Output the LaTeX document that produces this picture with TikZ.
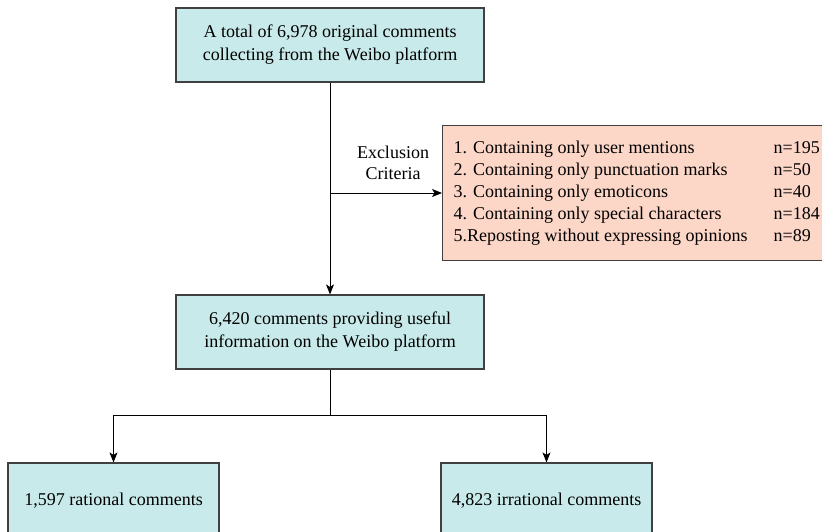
\documentclass[tikz,border=0pt]{standalone}
\usepackage{fontspec}
\setmainfont{Liberation Serif}
\usetikzlibrary{arrows.meta}
\definecolor{boxcyan}{RGB}{201,234,234}
\definecolor{boxpeach}{RGB}{252,214,199}
\begin{document}
\begin{tikzpicture}[x=1pt,y=-1pt,
    box/.style={draw=black!75,line width=1.2pt,fill=boxcyan,align=center,inner sep=0pt,
      font=\fontsize{18}{23}\selectfont},
    flow/.style={line width=1pt,-{Stealth[length=10pt,width=8pt,inset=2.5pt]}}]
      \useasboundingbox (0,0) rectangle (822,532);
      \clip (0,0) rectangle (822,532);
      \node[box,minimum width=308pt,minimum height=74pt] (total) at (330,45)
        {A total of 6,978 original comments\\collecting from the Weibo platform};
      \node[box,minimum width=308pt,minimum height=74pt] (useful) at (330,332)
        {6,420 comments providing useful\\information on the Weibo platform};
      \node[box,fill=boxpeach,anchor=west,inner xsep=11pt,minimum height=135pt,
        font=\fontsize{18}{22}\selectfont] (excl) at (442,193)
        {\begin{tabular}{@{}p{320pt}@{}l@{}}
          1. Containing only user mentions & n=195\\
          2. Containing only punctuation marks & n=50\\
          3. Containing only emoticons & n=40\\
          4. Containing only special characters & n=184\\
          5.Reposting without expressing opinions & n=89
        \end{tabular}};
      \node[box,minimum width=211pt,minimum height=76pt] (rational) at (113.5,501)
        {1,597 rational comments};
      \node[box,minimum width=211pt,minimum height=76pt] (irrational) at (546.5,501)
        {4,823 irrational comments};
      \node[align=center,font=\fontsize{18}{21}\selectfont] (crit) at (393,163)
        {Exclusion\\Criteria};
      \coordinate (fork) at (330,415);
      \draw[flow] (total.south) -- (useful.north);
      \draw[flow] (total.south |- excl.west) -- (excl.west);
      \draw[line width=1pt] (useful.south) -- (fork);
      \draw[flow] (fork) -| (rational.north);
      \draw[flow] (fork) -| (irrational.north);
\end{tikzpicture}
\end{document}
